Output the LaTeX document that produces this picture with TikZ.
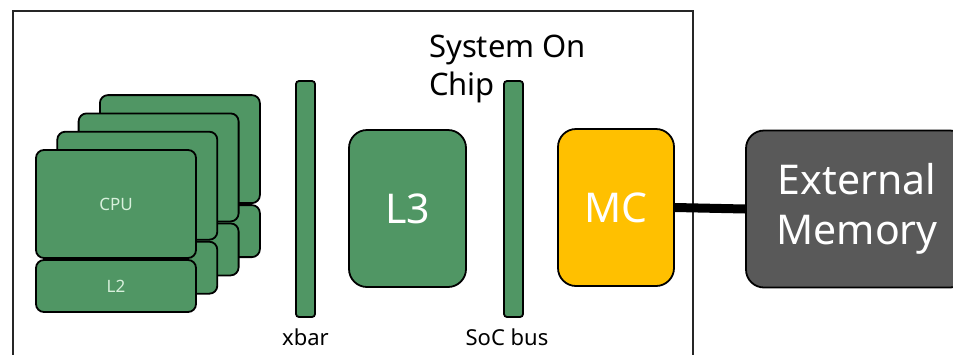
\documentclass[tikz,border=0pt]{standalone}
\usepackage{fontspec}
\setmainfont{Noto Sans}
\definecolor{cgreen}{HTML}{509664}
\definecolor{cyellow}{HTML}{FFC000}
\definecolor{cgray}{HTML}{595959}
\definecolor{clight}{HTML}{D8F0DC}
\tikzset{
  gbox/.style={draw=black, line width=1.8pt, fill=cgreen, rounded corners=8pt, inner sep=0pt},
  bigbox/.style={draw=black, line width=1.8pt, rounded corners=18pt, inner sep=0pt, text=white,
     font=\fontsize{41}{50}\selectfont},
  barbox/.style={draw=black, line width=1.8pt, fill=cgreen, rounded corners=3pt, inner sep=0pt,
     minimum width=19pt, minimum height=236pt},
  lab/.style={font=\fontsize{22}{26}\selectfont, inner sep=0pt},
  small/.style={text=clight, font=\fontsize{17}{19}\selectfont}
}
\begin{document}
\begin{tikzpicture}[x=1pt,y=-1pt]
\useasboundingbox (0,0) rectangle (953,354);
\begin{scope}
\clip (0,0) rectangle (953,354);
\draw[line width=1.3pt, draw=black!85] (13,11) rectangle (693,380);
\foreach \i in {3,2,1} {
  \node[gbox, minimum width=160pt, minimum height=108pt] (cpu\i) at ({116+21.3*\i},{204-18.3*\i}) {};
  \node[gbox, minimum width=160pt, minimum height=52pt] (ltwo\i) at ({116+21.3*\i},{286-18.3*\i}) {};
}
\node[gbox, small, minimum width=160pt, minimum height=108pt] (cpu0) at (116,204) {CPU};
\node[gbox, small, minimum width=160pt, minimum height=52pt] (ltwo0) at (116,286) {L2};
\node[barbox] (xbar) at (305.5,199) {};
\node[lab] (xbarlab) at (305.5,337) {xbar};
\node[bigbox, fill=cgreen, minimum width=117pt, minimum height=157pt] (lthree) at (407.5,208.5) {L3};
\node[barbox] (socbus) at (513.5,199) {};
\node[lab] (soclab) at (507,337) {SoC bus};
\node[bigbox, fill=cyellow, minimum width=116pt, minimum height=157pt] (mc) at (616,207.5) {MC};
\node[bigbox, fill=cgray, minimum width=222pt, minimum height=157pt, align=center] (mem) at (857,209) {External\\Memory};
\draw[line width=9pt] (mc.east) -- (mem.west);
\node[anchor=north west, align=left, inner sep=0pt, font=\fontsize{31}{38}\selectfont] (soc) at (429,35) {System On\\Chip};
\end{scope}
\end{tikzpicture}
\end{document}
